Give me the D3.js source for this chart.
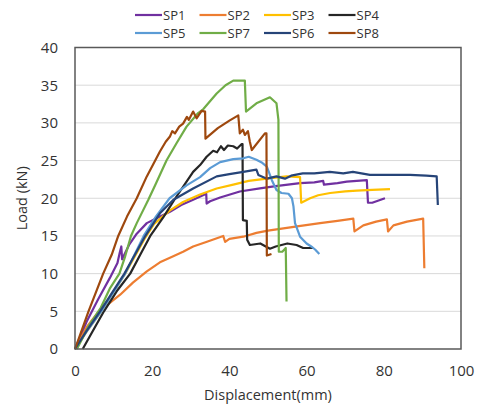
<!DOCTYPE html>
<html><head><meta charset="utf-8">
<script src="https://cdn.jsdelivr.net/npm/d3@7"></script>
<style>body{margin:0;background:#fff;} svg{display:block;font-family:"Open Sans",sans-serif;}</style>
</head><body><svg id="c" width="478" height="405"></svg>
<script>
const seriesNames = ["SP1","SP2","SP3","SP4","SP5","SP7","SP6","SP8"];
const seriesColors = ["#7030A0","#ED7D31","#FFC000","#262626","#5B9BD5","#70AD47","#264478","#9E480E"];
const xTicks = [0,20,40,60,80,100];
const yTicks = [0,5,10,15,20,25,30,35,40];

const SP1 = [[0,0],[3,3.6],[6,6.6],[9,9.4],[11,11.4],[11.6,12.8],[12.0,13.6],[12.2,11.9],[14,13.8],[16,15.3],[18.6,16.7],[21,17.3],[24.6,18.2],[27.5,19.1],[30.6,19.8],[34,20.6],[34.1,19.3],[35,19.6],[37.6,20.1],[42.7,20.9],[47.9,21.3],[52,21.6],[58.3,22],[62,22.1],[64.3,22.3],[64.5,21.8],[68,22],[70.4,22.2],[75.6,22.4],[75.9,19.4],[77,19.4],[80.3,20]];
const SP2 = [[0,0],[3,2.9],[6,4.9],[7.5,5.5],[11.7,7.2],[15,8.8],[18.6,10.3],[22,11.5],[24.6,12.1],[28,12.9],[30.6,13.6],[34,14.2],[38.4,15],[38.9,14.2],[40,14.6],[43.6,14.9],[47,15.4],[50,15.7],[54,16],[58,16.3],[63.5,16.7],[68,17],[72.1,17.3],[72.4,15.6],[74.7,16.4],[78,16.9],[80.8,17.2],[81.1,15.6],[82.5,16.4],[86,16.9],[90.2,17.3],[90.5,10.7]];
const SP3 = [[0,0],[3,2.3],[6.8,5],[13,10],[18,14.6],[20.5,16.6],[24.6,18.4],[28,19.5],[32.4,20.5],[36.7,21.3],[41,21.8],[45,22.3],[49.7,22.6],[54.8,22.9],[58.3,22.8],[58.6,19.4],[60.9,20],[63,20.4],[66.1,20.7],[70,20.9],[73,21],[77,21.1],[81.6,21.2]];
const SP4 = [[2,0],[4.5,2.3],[7.5,5],[11,7.8],[14.3,10],[17,12.6],[19.5,15],[22.9,17.5],[26,20],[28.9,22.2],[30.6,23.5],[32.4,24.4],[34.1,25.5],[35.8,26.3],[36.8,26.1],[37.8,26.9],[38.6,26.4],[39.6,27],[41,26.9],[42,26.6],[43.2,27.2],[43.4,27.2],[43.5,17.1],[44.5,17],[44.6,14.5],[45.3,13.8],[48,14],[50.5,13.3],[52,13.6],[55,14],[57.4,13.8],[59.1,13.4],[61.7,13.4]];
const SP5 = [[0,0],[3,2.3],[6.8,5],[13,10],[17.8,15],[21,17.6],[24.5,20],[28.9,21.7],[32.4,22.8],[35,24],[37.6,24.8],[41,25.2],[43.6,25.3],[45,25.5],[47,25.1],[48.5,24.7],[49.7,24.2],[51,22.4],[52.2,21.1],[53.5,20.7],[55.3,20.6],[56.2,20],[56.6,18.9],[57,16.7],[58.3,14.9],[60,14],[61.2,13.6],[62.2,13.2],[63.3,12.6]];
const SP7 = [[0.5,0],[3.5,3],[6.7,5.5],[9,8],[11.5,10],[13,12.3],[14.5,15],[16,16.7],[19,19.8],[21,22],[23.7,25],[26.3,27.3],[28.9,29.5],[31.9,31.3],[33.2,31.8],[36.7,33.9],[39,35],[41,35.6],[44,35.6],[44.3,31.5],[47,32.6],[50.5,33.4],[52.2,32.6],[52.7,30.4],[52.8,12.9],[53.7,12.9],[54.6,13.4],[54.8,6.3]];
const SP6 = [[0,0],[3,2.4],[6.5,5],[12.8,10],[18,14.8],[22,18],[25.5,19.8],[30.6,21.3],[36.7,22.9],[40,23.2],[43.6,23.5],[47,23.8],[47.5,23.1],[49.7,22.6],[52.2,22.9],[54.4,22.6],[56,23],[59,23.3],[62,23.3],[66,23.5],[69.5,23.3],[72,23.5],[76.4,23.1],[81.6,23.1],[86.8,23.1],[91,23],[93.7,22.9],[94,19.1]];
const SP8 = [[0,0],[3.5,5],[7.3,10],[9.5,12.5],[11.2,15],[13.5,17.6],[16,20],[18.6,22.9],[22,26.2],[23.5,27.5],[24.6,28.2],[25.2,28.9],[25.9,28.6],[27,29.5],[28,29.9],[29,30.8],[29.5,30.4],[30.6,31.5],[31.5,30.6],[32.8,31.6],[33.7,31.5],[33.8,27.9],[37,29.3],[40,30.3],[42.3,31],[42.7,28.6],[43.5,29.1],[44,28.4],[44.8,28.9],[45.3,27.5],[45.8,26.4],[49.2,28.6],[49.6,28.6],[49.7,12.4],[50.9,12.6]];
const seriesData = [SP1,SP2,SP3,SP4,SP5,SP7,SP6,SP8];

const svg = d3.select("#c");
const L = 75, R = 461, T = 47.5, B = 349;
const x = d3.scaleLinear().domain([0,100]).range([L,R]);
const y = d3.scaleLinear().domain([0,40]).range([B,T]);

// gridlines
svg.append("g").selectAll("line").data(yTicks.slice(1)).join("line")
  .attr("x1",L).attr("x2",R).attr("y1",d=>y(d)).attr("y2",d=>y(d))
  .attr("stroke","#d9d9d9").attr("stroke-width",1);

// axes labels
const xa = svg.append("g").attr("transform",`translate(0,${B})`).call(d3.axisBottom(x).tickValues(xTicks).tickSize(0).tickPadding(16));
const ya = svg.append("g").attr("transform",`translate(${L},0)`).call(d3.axisLeft(y).tickValues(yTicks).tickSize(0).tickPadding(17));
[xa,ya].forEach(a=>{a.select(".domain").remove(); a.selectAll("text").attr("font-size",15).attr("fill","#333").attr("font-family","Open Sans");});

// lines
const line = d3.line().x(d=>x(d[0])).y(d=>y(d[1]));
svg.append("g").selectAll("path").data(seriesData).join("path")
  .attr("d",line).attr("fill","none")
  .attr("stroke",(d,i)=>seriesColors[i]).attr("stroke-width",2.2).attr("stroke-linejoin","round");

// frame
svg.append("rect").attr("x",L).attr("y",T).attr("width",R-L).attr("height",B-T)
  .attr("fill","none").attr("stroke","#595959").attr("stroke-width",1.5);

// axis titles
svg.append("text").attr("x",x(50)).attr("y",400).attr("text-anchor","middle")
  .attr("font-size",14.5).attr("fill","#333").text("Displacement(mm)");
svg.append("text").attr("transform",`translate(27,${(T+B)/2}) rotate(-90)`).attr("text-anchor","middle")
  .attr("font-size",14.5).attr("fill","#333").text("Load (kN)");

// legend
const lg = svg.append("g");
seriesNames.forEach((n,i)=>{
  const col = i%4, row = Math.floor(i/4);
  const lx = 135 + col*64.5, ly = 15 + row*18;
  lg.append("line").attr("x1",lx).attr("x2",lx+27).attr("y1",ly).attr("y2",ly)
    .attr("stroke",seriesColors[i]).attr("stroke-width",2.2);
  lg.append("text").attr("x",lx+28).attr("y",ly+4.5).attr("font-size",13).attr("fill","#333").text(n);
});
</script></body></html>
